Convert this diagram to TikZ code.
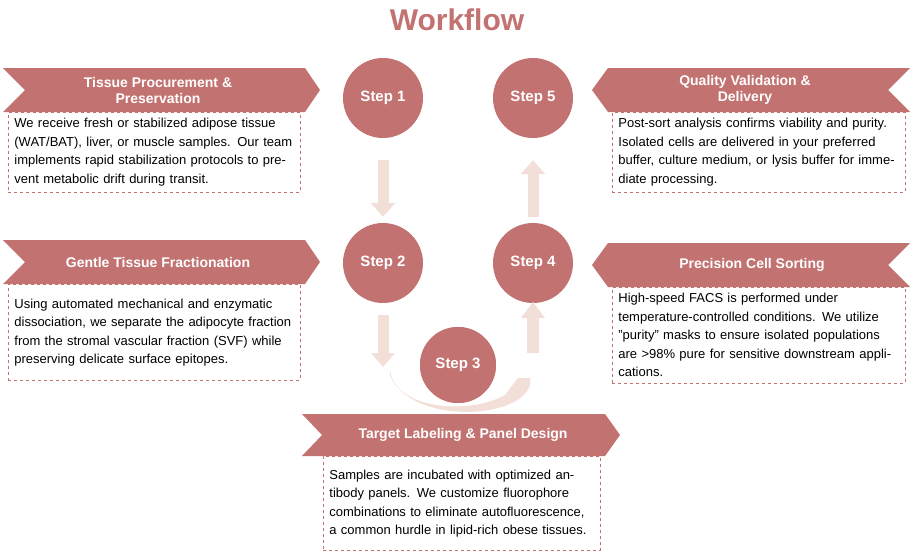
\documentclass[tikz,border=0pt]{standalone}
\usepackage{fontspec}
\setmainfont{Liberation Sans}
\usetikzlibrary{arrows.meta,positioning}
\definecolor{rose}{HTML}{C27270}
\definecolor{blush}{HTML}{F2DFD8}
\tikzset{
  stepnode/.style={circle,fill=rose,minimum size=80pt,inner sep=0pt,text=white,font=\fontsize{15}{18}\selectfont\bfseries},
  desc/.style={draw=rose,dashed,line width=0.8pt,anchor=north west,inner sep=6pt,align=left,font=\fontsize{13}{18.5}\selectfont},
  headtxt/.style={text=white,font=\fontsize{14}{16}\selectfont\bfseries,align=center},
  flow/.style={blush,line width=11pt,-{Triangle[length=14pt,width=24pt]}},
}
\begin{document}
\begin{tikzpicture}[x=1pt,y=-1pt]
\useasboundingbox (0,0) rectangle (914,557);
% title
\node[text=rose,font=\fontsize{30}{34}\selectfont\bfseries] (title) at (457,20) {Workflow};
% steps
\node[stepnode] (s1) at (383,98) {Step 1};
\node[stepnode] (s5) at (533,98) {Step 5};
\node[stepnode] (s2) at (383,263) {Step 2};
\node[stepnode] (s4) at (533,263) {Step 4};
\node[stepnode,minimum size=76pt] (s3) at (458,365) {Step 3};
% arrows between steps
\draw[flow] ([yshift=-22pt]s1.south) -- ([yshift=6pt]s2.north);
\draw[flow] ([yshift=6pt]s4.north) -- ([yshift=-22pt]s5.south);
\draw[flow,-] ([yshift=-12pt]s2.south) -- ++(0,38);
\fill[blush] (371,353) -- (395,353) -- (383,367) -- cycle;
\fill[blush] (527,318) -- (539,318) -- (539,353) -- (527,353) -- cycle;
\fill[blush] (521,318) -- (545,318) -- (533,302) -- cycle;
\fill[blush] (390,370) .. controls (395,410) and (470,415) .. (505,395) -- (518,378) -- (530,378) -- (530,385) .. controls (520,420) and (410,425) .. (390,375) -- cycle;
\node[stepnode,minimum size=76pt] at (s3) {Step 3};
% left banners
\fill[rose] (3,68) -- (305,68) -- (320,90) -- (305,112) -- (3,112) -- (25,90) -- cycle;
\node[headtxt] (h1) at (158,90) {Tissue Procurement \&\\Preservation};
\node[desc,text width=280pt,minimum height=78pt] (d1) at (8,112) {We receive fresh or stabilized adipose tissue (WAT/BAT), liver, or muscle samples. Our team implements rapid stabilization protocols to prevent metabolic drift during transit.};
\fill[rose] (3,240) -- (305,240) -- (320,262) -- (305,284) -- (3,284) -- (25,262) -- cycle;
\node[headtxt] (h2) at (158,262) {Gentle Tissue Fractionation};
\node[desc,text width=280pt,minimum height=96pt] (d2) at (8,284) {Using automated mechanical and enzymatic dissociation, we separate the adipocyte fraction from the stromal vascular fraction (SVF) while preserving delicate surface epitopes.};
% right banners
\fill[rose] (910,68) -- (608,68) -- (592,90) -- (608,112) -- (910,112) -- (888,90) -- cycle;
\node[headtxt] (h5) at (745,90) {Quality Validation \&\\Delivery};
\node[desc,text width=281pt,minimum height=78pt] (d5) at (612,112) {Post-sort analysis confirms viability and purity. Isolated cells are delivered in your preferred buffer, culture medium, or lysis buffer for immediate processing.};
\fill[rose] (910,243) -- (608,243) -- (592,265) -- (608,287) -- (910,287) -- (888,265) -- cycle;
\node[headtxt] (h4) at (752,265) {Precision Cell Sorting};
\node[desc,text width=281pt,minimum height=93pt] (d4) at (612,287) {High-speed FACS is performed under temperature-controlled conditions. We utilize "purity" masks to ensure isolated populations are >98\% pure for sensitive downstream applications.};
% bottom banner
\fill[rose] (302,414) -- (605,414) -- (620,435) -- (605,456) -- (302,456) -- (322,435) -- cycle;
\node[headtxt] (h3) at (463,435) {Target Labeling \& Panel Design};
\node[desc,text width=265pt,minimum height=94pt] (d3) at (323,456) {Samples are incubated with optimized antibody panels. We customize fluorophore combinations to eliminate autofluorescence, a common hurdle in lipid-rich obese tissues.};
\end{tikzpicture}
\end{document}
